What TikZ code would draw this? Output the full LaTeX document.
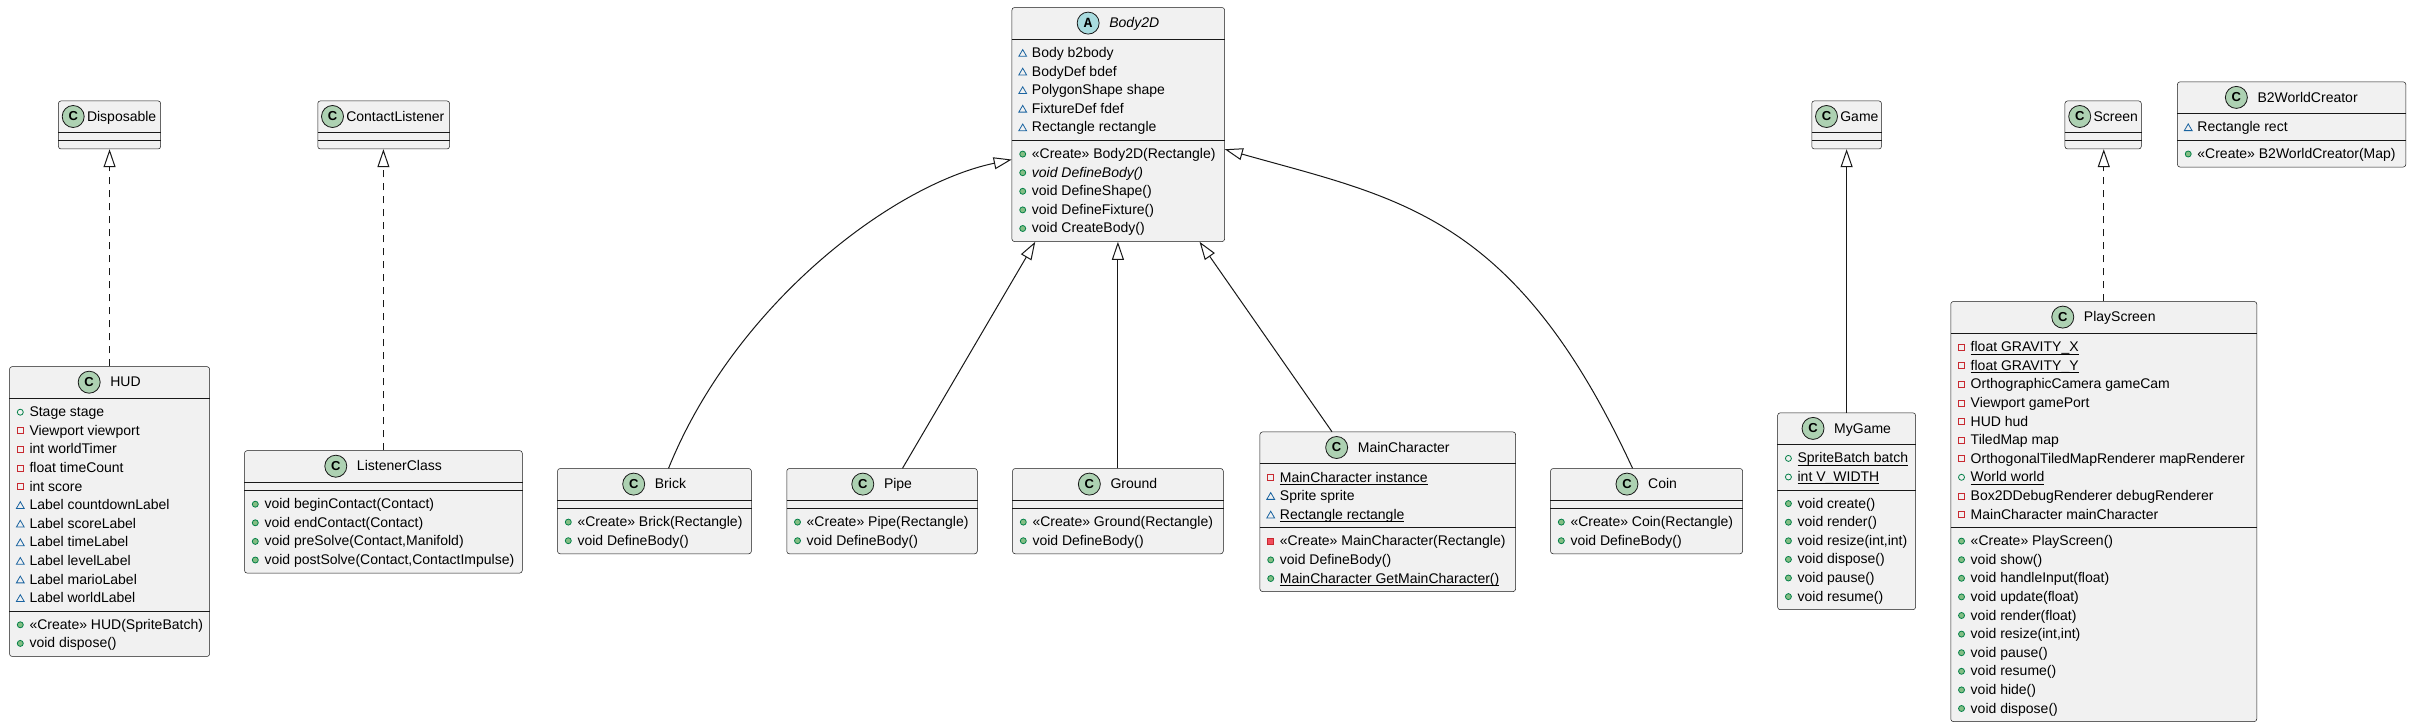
\documentclass[tikz,border=0pt]{standalone}
\usepackage{fontspec}
\setmainfont{Liberation Sans}
\newfontfamily\monofnt{Liberation Mono}
\usetikzlibrary{arrows.meta,shapes.geometric}
\definecolor{cFill}{HTML}{F1F1F1}
\definecolor{cLine}{HTML}{181818}
\definecolor{cCirc}{HTML}{ADD1B2}
\definecolor{cAbs}{HTML}{A9DCDF}
\definecolor{cPrivB}{HTML}{C82930}
\definecolor{cPrivF}{HTML}{F24D5C}
\definecolor{cPubB}{HTML}{038048}
\definecolor{cPubF}{HTML}{84BE84}
\definecolor{cPkg}{HTML}{1963A0}
\newsavebox\mundbox
\newcommand\mund[1]{\sbox\mundbox{#1}\rlap{\rule[-2.8pt]{\wd\mundbox}{0.9pt}}\usebox\mundbox}
% class box
\newcommand\cls[5]{\node[cbox, minimum width=#4pt, minimum height=#5pt] (#1) at (#2,#3) {};}
% centred header: node, circle style, letter, name
\newcommand\chead[4]{%
  \node[cname, anchor=base] (#1-n) at ([xshift=16pt,yshift=-20.5pt]#1.north) {#4};
  \node[#2] (#1-c) at ([xshift=-21pt,yshift=4.7pt]#1-n.base west) {#3};}
\newcommand\shead[2]{%
  \node[cname, anchor=base west] (#1-n) at ([xshift=28.6pt,yshift=-20.5pt]#1.north west) {#2};
  \node[ccirc] (#1-c) at ([xshift=-13.6pt,yshift=4.7pt]#1-n.base west) {C};}
% divider
\newcommand\hdiv[2]{\draw[divline] ([yshift=-#2pt]#1.north west) -- ([yshift=-#2pt]#1.north east);}
% member row: name, box, compartment offset, index, icon, text
\newcommand\mrow[6]{%
  \node[#5] (#1-i) at ([xshift=11pt,yshift={-(#3+13.8+18.6*(#4-1))}]#2.north west) {};
  \node[mtext] (#1) at ([xshift=20pt,yshift={-(#3+18.3+18.6*(#4-1))}]#2.north west) {#6};}
\begin{document}
\begin{tikzpicture}[x=1pt,y=-1pt,
  cbox/.style={draw=cLine, line width=0.5pt, fill=cFill, rounded corners=2.5pt, inner sep=0pt, anchor=north west},
  divline/.style={draw=cLine, line width=0.5pt},
  cname/.style={inner sep=0pt, font=\fontsize{14}{16}\selectfont},
  mtext/.style={anchor=base west, inner sep=0pt, font=\fontsize{14}{16}\selectfont},
  ccirc/.style={circle, draw=cLine, line width=0.8pt, fill=cCirc, minimum size=22pt, inner sep=0pt, font=\fontsize{13}{13}\selectfont\bfseries},
  abscirc/.style={ccirc, fill=cAbs, font=\monofnt\fontsize{14}{14}\selectfont\bfseries},
  privf/.style={rectangle, draw=cPrivB, line width=0.8pt, minimum size=6pt, inner sep=0pt},
  privm/.style={privf, fill=cPrivF},
  pubf/.style={circle, draw=cPubB, line width=0.8pt, minimum size=6pt, inner sep=0pt},
  pubm/.style={pubf, fill=cPubF},
  pkgf/.style={regular polygon, regular polygon sides=3, draw=cPkg, line width=0.8pt, minimum size=9pt, inner sep=0pt, yshift=-1pt},
  inh/.style={draw=cLine, line width=1pt, -{Triangle[open,length=18pt,width=12pt]}},
  real/.style={inh, dash pattern=on 7pt off 6pt}]
\fill[white] (0,0) rectangle (2411,727);
\useasboundingbox (0,0) rectangle (2411,727);

% ---------- Disposable / HUD ----------
\cls{disp}{58.2}{100.7}{102.2}{48}
\shead{disp}{Disposable}
\hdiv{disp}{32}\hdiv{disp}{40}

\cls{hud}{9.3}{366.4}{200}{289.8}
\chead{hud}{ccirc}{C}{HUD}
\hdiv{hud}{32}\hdiv{hud}{244.6}
\mrow{hud-a1}{hud}{32}{1}{pubf}{Stage stage}
\mrow{hud-a2}{hud}{32}{2}{privf}{Viewport viewport}
\mrow{hud-a3}{hud}{32}{3}{privf}{int worldTimer}
\mrow{hud-a4}{hud}{32}{4}{privf}{float timeCount}
\mrow{hud-a5}{hud}{32}{5}{privf}{int score}
\mrow{hud-a6}{hud}{32}{6}{pkgf}{Label countdownLabel}
\mrow{hud-a7}{hud}{32}{7}{pkgf}{Label scoreLabel}
\mrow{hud-a8}{hud}{32}{8}{pkgf}{Label timeLabel}
\mrow{hud-a9}{hud}{32}{9}{pkgf}{Label levelLabel}
\mrow{hud-a10}{hud}{32}{10}{pkgf}{Label marioLabel}
\mrow{hud-a11}{hud}{32}{11}{pkgf}{Label worldLabel}
\mrow{hud-m1}{hud}{244.6}{1}{pubm}{«Create» HUD(SpriteBatch)}
\mrow{hud-m2}{hud}{244.6}{2}{pubm}{void dispose()}

% ---------- ContactListener / ListenerClass ----------
\cls{cl}{317.5}{100.7}{131.8}{48}
\shead{cl}{ContactListener}
\hdiv{cl}{32}\hdiv{cl}{40}

\cls{lis}{244.3}{450.4}{277.7}{122.4}
\chead{lis}{ccirc}{C}{ListenerClass}
\hdiv{lis}{32}\hdiv{lis}{40}
\mrow{lis-m1}{lis}{40}{1}{pubm}{void beginContact(Contact)}
\mrow{lis-m2}{lis}{40}{2}{pubm}{void endContact(Contact)}
\mrow{lis-m3}{lis}{40}{3}{pubm}{void preSolve(Contact,Manifold)}
\mrow{lis-m4}{lis}{40}{4}{pubm}{void postSolve(Contact,ContactImpulse)}

% ---------- Body2D ----------
\cls{body}{1011.7}{7.3}{212.6}{234}
\chead{body}{abscirc}{A}{\itshape Body2D}
\hdiv{body}{32}\hdiv{body}{133}
\mrow{body-a1}{body}{32}{1}{pkgf}{Body b2body}
\mrow{body-a2}{body}{32}{2}{pkgf}{BodyDef bdef}
\mrow{body-a3}{body}{32}{3}{pkgf}{PolygonShape shape}
\mrow{body-a4}{body}{32}{4}{pkgf}{FixtureDef fdef}
\mrow{body-a5}{body}{32}{5}{pkgf}{Rectangle rectangle}
\mrow{body-m1}{body}{133}{1}{pubm}{«Create» Body2D(Rectangle)}
\mrow{body-m2}{body}{133}{2}{pubm}{\itshape void DefineBody()}
\mrow{body-m3}{body}{133}{3}{pubm}{void DefineShape()}
\mrow{body-m4}{body}{133}{4}{pubm}{void DefineFixture()}
\mrow{body-m5}{body}{133}{5}{pubm}{void CreateBody()}

% ---------- Brick, Pipe, Ground, Coin ----------
\cls{brick}{557.3}{468.3}{193.8}{85.2}
\chead{brick}{ccirc}{C}{Brick}
\hdiv{brick}{32}\hdiv{brick}{40}
\mrow{brick-m1}{brick}{40}{1}{pubm}{«Create» Brick(Rectangle)}
\mrow{brick-m2}{brick}{40}{2}{pubm}{void DefineBody()}

\cls{pipe}{786.5}{468.3}{190.5}{85.2}
\chead{pipe}{ccirc}{C}{Pipe}
\hdiv{pipe}{32}\hdiv{pipe}{40}
\mrow{pipe-m1}{pipe}{40}{1}{pubm}{«Create» Pipe(Rectangle)}
\mrow{pipe-m2}{pipe}{40}{2}{pubm}{void DefineBody()}

\cls{ground}{1012.3}{468.3}{210.7}{85.2}
\chead{ground}{ccirc}{C}{Ground}
\hdiv{ground}{32}\hdiv{ground}{40}
\mrow{ground-m1}{ground}{40}{1}{pubm}{«Create» Ground(Rectangle)}
\mrow{ground-m2}{ground}{40}{2}{pubm}{void DefineBody()}

\cls{coin}{1550.3}{468.3}{192}{85.2}
\chead{coin}{ccirc}{C}{Coin}
\hdiv{coin}{32}\hdiv{coin}{40}
\mrow{coin-m1}{coin}{40}{1}{pubm}{«Create» Coin(Rectangle)}
\mrow{coin-m2}{coin}{40}{2}{pubm}{void DefineBody()}

% ---------- MainCharacter ----------
\cls{mc}{1259.7}{431.7}{255.6}{159.6}
\chead{mc}{ccirc}{C}{MainCharacter}
\hdiv{mc}{32}\hdiv{mc}{95.8}
\mrow{mc-a1}{mc}{32}{1}{privf}{\mund{MainCharacter instance}}
\mrow{mc-a2}{mc}{32}{2}{pkgf}{Sprite sprite}
\mrow{mc-a3}{mc}{32}{3}{pkgf}{\mund{Rectangle rectangle}}
\mrow{mc-m1}{mc}{95.8}{1}{privm}{«Create» MainCharacter(Rectangle)}
\mrow{mc-m2}{mc}{95.8}{2}{pubm}{void DefineBody()}
\mrow{mc-m3}{mc}{95.8}{3}{pubm}{\mund{MainCharacter GetMainCharacter()}}

% ---------- Game / MyGame ----------
\cls{game}{1811.5}{100.7}{69.7}{48}
\shead{game}{Game}
\hdiv{game}{32}\hdiv{game}{40}

\cls{mygame}{1777.4}{412.6}{137.9}{196.8}
\chead{mygame}{ccirc}{C}{MyGame}
\hdiv{mygame}{32}\hdiv{mygame}{77.2}
\mrow{mg-a1}{mygame}{32}{1}{pubf}{\mund{SpriteBatch batch}}
\mrow{mg-a2}{mygame}{32}{2}{pubf}{\mund{int V\_WIDTH}}
\mrow{mg-m1}{mygame}{77.2}{1}{pubm}{void create()}
\mrow{mg-m2}{mygame}{77.2}{2}{pubm}{void render()}
\mrow{mg-m3}{mygame}{77.2}{3}{pubm}{void resize(int,int)}
\mrow{mg-m4}{mygame}{77.2}{4}{pubm}{void dispose()}
\mrow{mg-m5}{mygame}{77.2}{5}{pubm}{void pause()}
\mrow{mg-m6}{mygame}{77.2}{6}{pubm}{void resume()}

% ---------- Screen / PlayScreen ----------
\cls{screen}{2064.7}{100.7}{76.3}{48}
\shead{screen}{Screen}
\hdiv{screen}{32}\hdiv{screen}{40}

\cls{play}{1950.5}{301.3}{306}{420}
\chead{play}{ccirc}{C}{PlayScreen}
\hdiv{play}{32}\hdiv{play}{226}
\mrow{ps-a1}{play}{32}{1}{privf}{\mund{float GRAVITY\_X}}
\mrow{ps-a2}{play}{32}{2}{privf}{\mund{float GRAVITY\_Y}}
\mrow{ps-a3}{play}{32}{3}{privf}{OrthographicCamera gameCam}
\mrow{ps-a4}{play}{32}{4}{privf}{Viewport gamePort}
\mrow{ps-a5}{play}{32}{5}{privf}{HUD hud}
\mrow{ps-a6}{play}{32}{6}{privf}{TiledMap map}
\mrow{ps-a7}{play}{32}{7}{privf}{OrthogonalTiledMapRenderer mapRenderer}
\mrow{ps-a8}{play}{32}{8}{pubf}{\mund{World world}}
\mrow{ps-a9}{play}{32}{9}{privf}{Box2DDebugRenderer debugRenderer}
\mrow{ps-a10}{play}{32}{10}{privf}{MainCharacter mainCharacter}
\mrow{ps-m1}{play}{226}{1}{pubm}{«Create» PlayScreen()}
\mrow{ps-m2}{play}{226}{2}{pubm}{void show()}
\mrow{ps-m3}{play}{226}{3}{pubm}{void handleInput(float)}
\mrow{ps-m4}{play}{226}{4}{pubm}{void update(float)}
\mrow{ps-m5}{play}{226}{5}{pubm}{void render(float)}
\mrow{ps-m6}{play}{226}{6}{pubm}{void resize(int,int)}
\mrow{ps-m7}{play}{226}{7}{pubm}{void pause()}
\mrow{ps-m8}{play}{226}{8}{pubm}{void resume()}
\mrow{ps-m9}{play}{226}{9}{pubm}{void hide()}
\mrow{ps-m10}{play}{226}{10}{pubm}{void dispose()}

% ---------- B2WorldCreator ----------
\cls{b2w}{2177.2}{81.6}{228.3}{85.2}
\chead{b2w}{ccirc}{C}{B2WorldCreator}
\hdiv{b2w}{32}\hdiv{b2w}{58.6}
\mrow{b2w-a1}{b2w}{32}{1}{pkgf}{Rectangle rect}
\mrow{b2w-m1}{b2w}{58.6}{1}{pubm}{«Create» B2WorldCreator(Map)}

% ---------- connectors ----------
\draw[real] (hud.north) -- (hud.north |- disp.south);
\draw[real] (lis.north) -- (lis.north |- cl.south);
\draw[inh] (mygame.north) -- (mygame.north |- game.south);
\draw[real] (play.north) -- (play.north |- screen.south);
\draw[inh] (ground.north) -- (ground.north |- body.south);
\draw[inh] ([xshift=20.5pt]pipe.north) -- ([xshift=-83pt]body.south);
\draw[inh] ([xshift=-55.8pt]mc.north) -- ([xshift=81.3pt]body.south);
\draw[inh] ([xshift=14.1pt]brick.north) .. controls (734.6,304.9) and (891.9,184.7) .. ([yshift=-35pt]body.west);
\draw[inh] ([xshift=-14pt]coin.north) .. controls (1515,214.2) and (1399.7,198.6) .. ([yshift=-24.7pt]body.east);
\end{tikzpicture}
\end{document}
